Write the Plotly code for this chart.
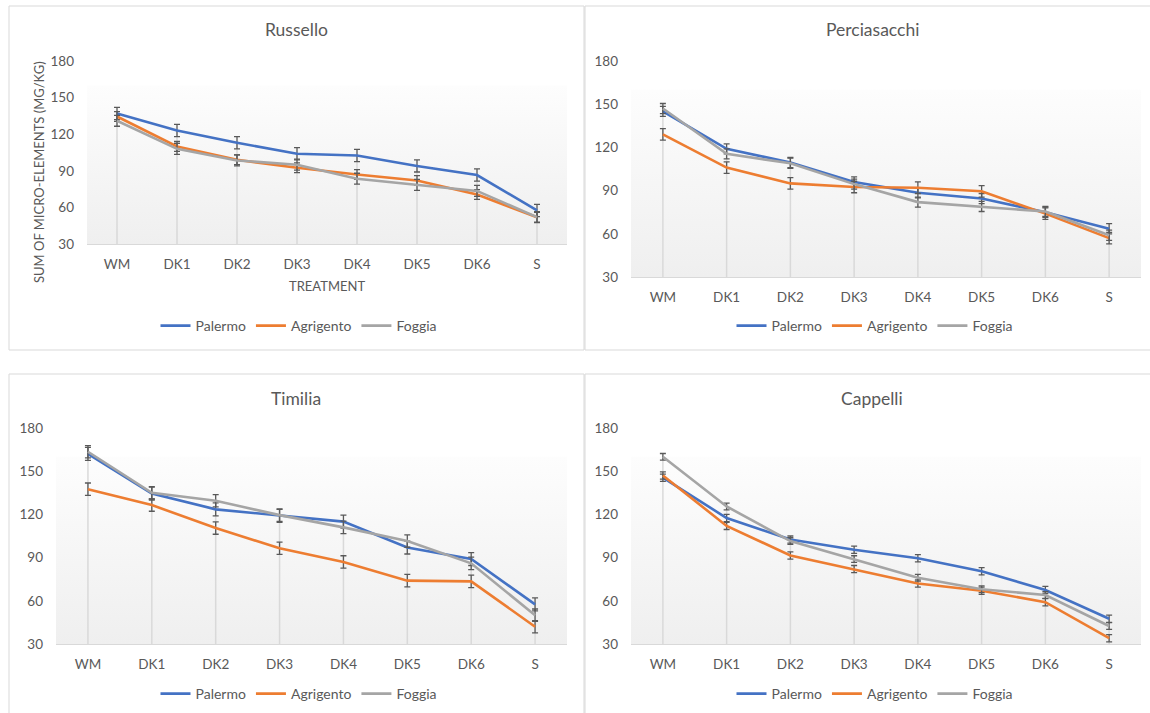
import plotly.graph_objects as go

W, H = 1150, 713

categories = ["WM", "DK1", "DK2", "DK3", "DK4", "DK5", "DK6", "S"]
series_names = ["Palermo", "Agrigento", "Foggia"]
series_colors = ["#4472C4", "#ED7D31", "#A5A5A5"]
y_ticks = [30, 60, 90, 120, 150, 180]

russello_palermo = [137, 123, 113, 104, 102.5, 94, 86.5, 57.5]
russello_agrigento = [134.5, 110, 99, 92.5, 87, 82, 70.5, 52]
russello_foggia = [131, 108, 98.5, 95, 83.5, 78.5, 73.5, 52]
russello_err = [[5, 5, 5, 5, 5, 5, 5, 5], [4, 4, 4, 4, 4, 4, 4, 4], [4.5, 4.5, 4.5, 4.5, 4.5, 4.5, 4.5, 4.5]]

perciasacchi_palermo = [145, 119, 109.5, 96, 88.5, 84.5, 75, 63.5]
perciasacchi_agrigento = [129, 106, 95, 92.5, 92, 89.5, 74, 57]
perciasacchi_foggia = [147, 115.5, 109, 94.5, 82, 79, 75.5, 59]
perciasacchi_err = [[3.5, 3.5, 3.5, 3.5, 3.5, 3.5, 3.5, 3.5], [4, 4, 4, 4, 4, 4, 4, 4], [3.5, 3.5, 3.5, 3.5, 3.5, 3.5, 3.5, 3.5]]

timilia_palermo = [162, 134.5, 123.5, 119, 115, 97, 89, 57.5]
timilia_agrigento = [137.5, 126.5, 110.5, 96.5, 87, 74, 73.5, 42]
timilia_foggia = [163.5, 135, 129.5, 119.5, 111, 101.5, 86, 50]
timilia_err = [[4.5, 4.5, 4.5, 4.5, 4.5, 4.5, 4.5, 4.5], [4.3, 4.3, 4.3, 4.3, 4.3, 4.3, 4.3, 4.3], [4.3, 4.3, 4.3, 4.3, 4.3, 4.3, 4.3, 4.3]]

cappelli_palermo = [145.5, 117.5, 102.5, 95.5, 89.5, 80.5, 67.5, 47.5]
cappelli_agrigento = [147, 112, 91.5, 82, 72, 67, 59, 34]
cappelli_foggia = [160, 125.5, 101.5, 89, 76, 68, 64, 42.5]
cappelli_err = [[2.5, 2.5, 2.5, 2.5, 2.5, 2.5, 2.5, 2.5], [2.5, 2.5, 2.5, 2.5, 2.5, 2.5, 2.5, 2.5], [2.3, 2.3, 2.3, 2.3, 2.3, 2.3, 2.3, 2.3]]

panels = [
    ("Russello", [russello_palermo, russello_agrigento, russello_foggia], russello_err),
    ("Perciasacchi", [perciasacchi_palermo, perciasacchi_agrigento, perciasacchi_foggia], perciasacchi_err),
    ("Timilia", [timilia_palermo, timilia_agrigento, timilia_foggia], timilia_err),
    ("Cappelli", [cappelli_palermo, cappelli_agrigento, cappelli_foggia], cappelli_err),
]

# pixel layout: plot box (x0, x1, y0, y1), panel box, title pos, legend pos
plot_boxes = [(87, 567, 61, 244), (631, 1141, 61, 277), (56, 567, 428, 644), (631, 1141, 428, 644)]
panel_boxes = [(9, 584, 6, 350), (585, 1155, 6, 350), (9, 584, 374, 720), (585, 1155, 374, 720)]
title_pos = [(296, 30), (872, 30), (296, 398), (872, 398)]
legend_pos = [(299, 326), (875, 326), (299, 694), (875, 694)]

FONT = "Lato, 'Open Sans', sans-serif"
TXT = "#595959"
TICK_SIZE = 13.5
LEG_SIZE = 14
TITLE_SIZE = 17.5

def fx(x):
    return x / W

def fy(y):
    return 1 - y / H

fig = go.Figure()
layout = dict(
    width=W, height=H, margin=dict(l=0, r=0, t=0, b=0, autoexpand=False),
    paper_bgcolor="white", plot_bgcolor="rgba(0,0,0,0)",
    font=dict(family=FONT, color=TXT, size=12),
    showlegend=True, shapes=[], annotations=[],
)

xs = list(range(len(categories)))
ymin, ymax = y_ticks[0], y_ticks[-1]

for i, (name, vals, errs) in enumerate(panels):
    n = i + 1
    xa = "x" if n == 1 else f"x{n}"
    ya = "y" if n == 1 else f"y{n}"
    lg = "legend" if n == 1 else f"legend{n}"
    x0, x1, y0, y1 = plot_boxes[i]

    # gradient background of plot area
    fig.add_trace(go.Scatter(
        x=[-0.5, len(categories) - 0.5, len(categories) - 0.5, -0.5, -0.5],
        y=[ymin, ymin, 160, 160, ymin], mode="lines", line=dict(width=0),
        fill="toself",
        fillgradient=dict(type="vertical", start=ymin, stop=160,
                          colorscale=[[0, "#efefef"], [1, "#fdfdfd"]]),
        hoverinfo="skip", showlegend=False, xaxis=xa, yaxis=ya,
    ))

    # drop lines from the highest point of each category to the axis
    dx, dy = [], []
    for k in xs:
        top = max(v[k] for v in vals)
        dx += [k, k, None]
        dy += [ymin, top, None]
    fig.add_trace(go.Scatter(x=dx, y=dy, mode="lines", line=dict(color="#d9d9d9", width=1.5),
                             hoverinfo="skip", showlegend=False, xaxis=xa, yaxis=ya))

    for s, sname in enumerate(series_names):
        fig.add_trace(go.Scatter(
            x=xs, y=vals[s], mode="lines", name=sname,
            line=dict(color=series_colors[s], width=2.6),
            error_y=dict(type="data", array=errs[s], color="#595959", thickness=1.3, width=3),
            xaxis=xa, yaxis=ya, legend=lg,
        ))

    xkey = "xaxis" if n == 1 else f"xaxis{n}"
    ykey = "yaxis" if n == 1 else f"yaxis{n}"
    layout[xkey] = dict(
        domain=[fx(x0), fx(x1)], anchor=ya, range=[-0.5, len(categories) - 0.5],
        tickmode="array", tickvals=xs, ticktext=categories, showgrid=False,
        zeroline=False, showline=True, linecolor="#d9d9d9", linewidth=1,
        ticks="", ticklabelstandoff=8, tickfont=dict(size=TICK_SIZE, color=TXT, family=FONT),
    )
    layout[ykey] = dict(
        domain=[fy(y1), fy(y0)], anchor=xa, range=[ymin, ymax],
        tickmode="array", tickvals=y_ticks, showgrid=False, zeroline=False,
        showline=False, ticks="", ticklabelstandoff=12,
        tickfont=dict(size=TICK_SIZE, color=TXT, family=FONT),
    )
    lx, ly = legend_pos[i]
    layout[lg] = dict(
        orientation="h", x=fx(lx), xanchor="center", y=fy(ly), yanchor="middle",
        font=dict(size=LEG_SIZE, color=TXT, family=FONT), bgcolor="rgba(0,0,0,0)",
        itemwidth=30, tracegroupgap=0,
    )
    bx0, bx1, by0, by1 = panel_boxes[i]
    layout["shapes"].append(dict(
        type="rect", xref="paper", yref="paper", x0=fx(bx0), x1=fx(bx1), y0=fy(by1), y1=fy(by0),
        line=dict(color="#d9d9d9", width=1), fillcolor="rgba(0,0,0,0)", layer="below",
    ))
    tx, ty = title_pos[i]
    layout["annotations"].append(dict(
        text=name, xref="paper", yref="paper", x=fx(tx), y=fy(ty), xanchor="center",
        yanchor="middle", showarrow=False, font=dict(size=TITLE_SIZE, color=TXT, family=FONT),
    ))

# axis titles of the first panel
layout["annotations"].append(dict(
    text="SUM OF MICRO-ELEMENTS (MG/KG)", xref="paper", yref="paper", x=fx(39), y=fy(172),
    xanchor="center", yanchor="middle", textangle=-90, showarrow=False,
    font=dict(size=13, color=TXT, family=FONT),
))
layout["annotations"].append(dict(
    text="TREATMENT", xref="paper", yref="paper", x=fx(327), y=fy(286),
    xanchor="center", yanchor="middle", showarrow=False,
    font=dict(size=13, color=TXT, family=FONT),
))

fig.update_layout(**layout)
fig.write_html(
    "out.html",
    config={"displayModeBar": False},
    post_script="document.body.style.margin='0';document.body.style.overflow='hidden';",
)
